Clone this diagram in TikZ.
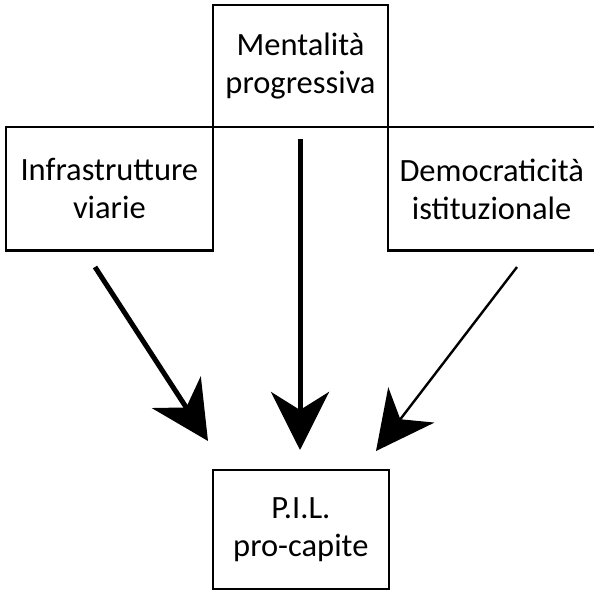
\documentclass[tikz,border=0pt]{standalone}
\usepackage{fontspec}
\setmainfont{Carlito}
\usetikzlibrary{arrows.meta}
\begin{document}
\begin{tikzpicture}[x=1pt,y=-1pt,
  box/.style={draw, line width=2.2pt, rectangle, align=center, inner sep=0pt,
    font=\fontsize{32.5}{38}\selectfont},
  bighead/.style={-{Stealth[length=58pt,width=58pt,inset=18pt]}}]
\useasboundingbox (0,0) rectangle (594,591);
\clip (0,0) rectangle (594,591);
\node[box, minimum width=175.6pt, minimum height=122.3pt] (ment) at (300.5,66.15) {Mentalità\\progressiva};
\node[box, minimum width=206.7pt, minimum height=123.2pt] (infra) at (109.35,188.9) {Infrastrutture\\viarie};
\node[box, minimum width=206.7pt, minimum height=123.2pt] (demo) at (491.65,188.9) {Democraticità\\istituzionale};
\node[box, minimum width=176.3pt, minimum height=119pt] (pil) at (300.85,529.5) {P.I.L.\\pro-capite};
\coordinate (la) at (95,267);
\coordinate (lb) at (208,441);
\coordinate (ma) at (300,139);
\coordinate (mb) at (300,450);
\coordinate (ra) at (517,267);
\coordinate (rb) at (376,451);
\draw[bighead, line width=5pt] (la) -- (lb);
\draw[bighead, line width=5pt] (ma) -- (mb);
\draw[bighead, line width=2.4pt] (ra) -- (rb);
\end{tikzpicture}
\end{document}
